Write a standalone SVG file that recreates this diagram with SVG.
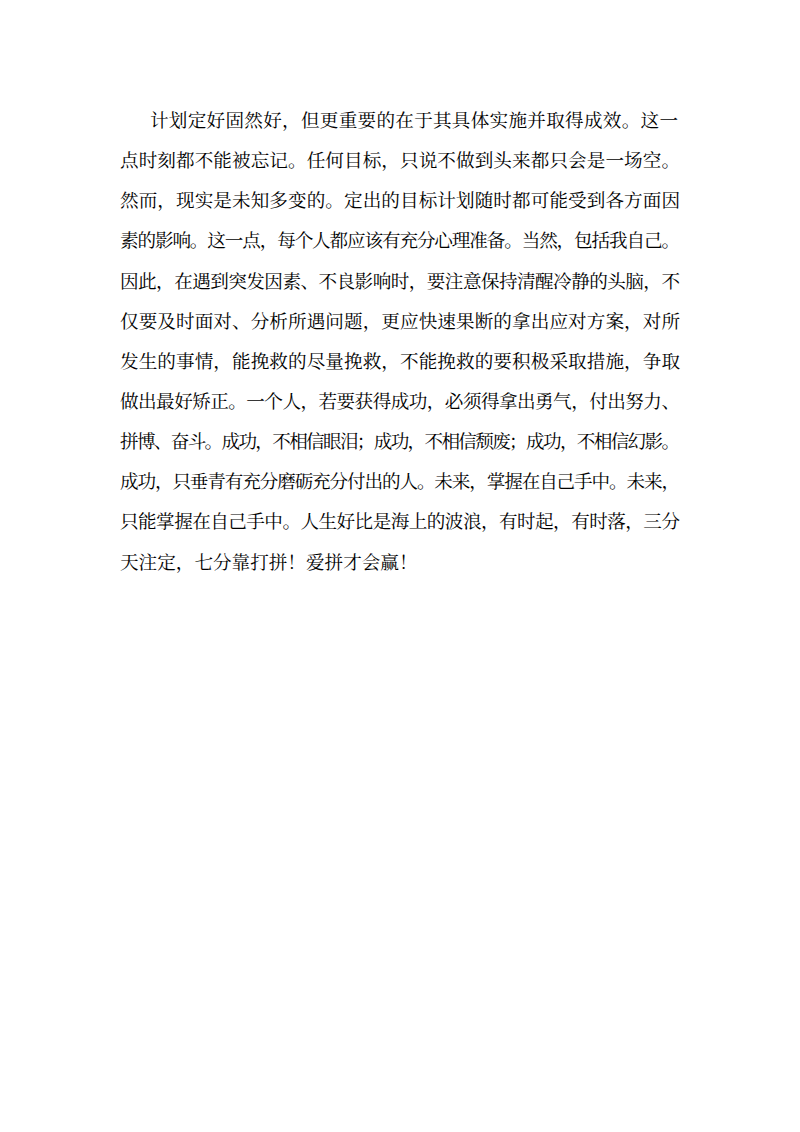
<svg xmlns="http://www.w3.org/2000/svg" width="800" height="1132" viewBox="0 0 800 1132">
<style>text{font-family:"Noto Serif CJK SC","Noto Sans CJK SC",serif;font-size:18.6px;fill:#000}</style>
<rect width="800" height="1132" fill="#fff"/>
<g id="body">
<text x="150" y="127" textLength="528" lengthAdjust="spacing">计划定好固然好，但更重要的在于其具体实施并取得成效。这一</text>
<text x="120" y="167" textLength="560" lengthAdjust="spacing">点时刻都不能被忘记。任何目标，只说不做到头来都只会是一场空。</text>
<text x="120" y="207" textLength="560" lengthAdjust="spacing">然而，现实是未知多变的。定出的目标计划随时都可能受到各方面因</text>
<text x="120" y="247" textLength="560" lengthAdjust="spacing">素的影响。这一点，每个人都应该有充分心理准备。当然，包括我自己。</text>
<text x="120" y="288" textLength="560" lengthAdjust="spacing">因此，在遇到突发因素、不良影响时，要注意保持清醒冷静的头脑，不</text>
<text x="120" y="328" textLength="560" lengthAdjust="spacing">仅要及时面对、分析所遇问题，更应快速果断的拿出应对方案，对所</text>
<text x="120" y="368" textLength="560" lengthAdjust="spacing">发生的事情，能挽救的尽量挽救，不能挽救的要积极采取措施，争取</text>
<text x="120" y="408" textLength="560" lengthAdjust="spacing">做出最好矫正。一个人，若要获得成功，必须得拿出勇气，付出努力、</text>
<text x="120" y="448" textLength="560" lengthAdjust="spacing">拼博、奋斗。成功，不相信眼泪；成功，不相信颓废；成功，不相信幻影。</text>
<text x="120" y="488" textLength="560" lengthAdjust="spacing">成功，只垂青有充分磨砺充分付出的人。未来，掌握在自己手中。未来，</text>
<text x="120" y="528" textLength="560" lengthAdjust="spacing">只能掌握在自己手中。人生好比是海上的波浪，有时起，有时落，三分</text>
<text x="120" y="569">天注定，七分靠打拼！爱拼才会赢！</text>
</g>
</svg>
